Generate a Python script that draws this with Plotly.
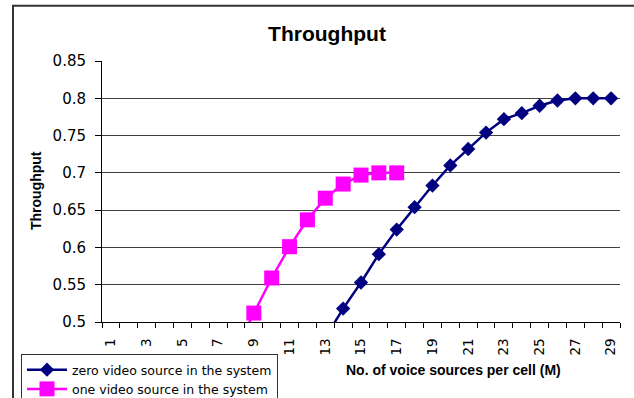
import plotly.graph_objects as go

# ---- data ----
zero_x = [13, 14, 15, 16, 17, 18, 19, 20, 21, 22, 23, 24, 25, 26, 27, 28, 29]
zero_y = [0.479, 0.518, 0.553, 0.591, 0.624, 0.654, 0.683, 0.710, 0.732, 0.754,
          0.772, 0.780, 0.790, 0.797, 0.800, 0.800, 0.800]
one_x = [8, 9, 10, 11, 12, 13, 14, 15, 16, 17]
one_y = [0.464, 0.512, 0.559, 0.601, 0.637, 0.666, 0.685, 0.697, 0.700, 0.700]

categories = list(range(1, 30))
label_cats = [c for c in categories if c % 2 == 1]
tick_labels = [str(c) for c in label_cats]
y_ticks = [0.5, 0.55, 0.6, 0.65, 0.7, 0.75, 0.8, 0.85]

W, H = 634, 398
L, R, T, B = 102, 14, 61, 76
pw, ph = W - L - R, H - T - B


def px_x(x):
    return (x - L) / pw


def px_y(y):
    return (H - B - y) / ph


fig = go.Figure()
fig.add_trace(go.Scatter(
    x=zero_x, y=zero_y, mode="lines+markers",
    name="zero video source in the system",
    line=dict(color="#000080", width=2.5),
    marker=dict(symbol="diamond", size=11, color="#000080"),
))
fig.add_trace(go.Scatter(
    x=one_x, y=one_y, mode="lines+markers",
    name="one video source in the system",
    line=dict(color="#FF00FF", width=2.5),
    marker=dict(symbol="square", size=15, color="#FF00FF"),
))

tick_font = dict(family="DejaVu Sans", size=13.5, color="black")
title_font = dict(family="Liberation Sans", size=14, color="black", weight="bold")

fig.update_layout(
    width=W, height=H,
    margin=dict(l=L, r=R, t=T, b=B, autoexpand=False),
    paper_bgcolor="white", plot_bgcolor="white",
    showlegend=True,
    title=dict(text="Throughput", x=327 / W, xref="container", xanchor="center",
               y=1 - 34 / H, yref="container", yanchor="middle",
               font=dict(family="Liberation Sans", size=21, color="black", weight="bold")),
    xaxis=dict(
        range=[0.5, 29.5], tickmode="array", tickvals=label_cats, ticktext=tick_labels,
        tickangle=-90, ticks="", showgrid=False, zeroline=False,
        showline=True, linecolor="black", linewidth=1, automargin=False,
        tickfont=tick_font, ticklabelstandoff=10,
        minor=dict(tickmode="array", tickvals=[c - 0.5 for c in categories] + [categories[-1] + 0.5],
                   ticks="outside", ticklen=5, tickcolor="black", tickwidth=1, showgrid=False),
    ),
    yaxis=dict(
        range=[0.5, 0.85], tickmode="array", tickvals=y_ticks,
        ticktext=[f"{v:g}" for v in y_ticks],
        ticks="outside", ticklen=6, tickcolor="black",
        showgrid=True, gridcolor="#404040", gridwidth=1, zeroline=False,
        showline=True, linecolor="black", linewidth=1, automargin=False,
        tickfont=dict(family="DejaVu Sans", size=15, color="black"),
        ticklabelstandoff=6,
    ),
    legend=dict(
        x=px_x(21), y=px_y(354), xanchor="left", yanchor="top",
        bgcolor="white", bordercolor="#333333", borderwidth=1,
        font=dict(family="DejaVu Sans", size=12.5, color="black"),
        itemwidth=40, tracegroupgap=0,
    ),
    annotations=[
        dict(text="No. of voice sources per cell (M)", xref="paper", yref="paper",
             x=px_x(453), y=px_y(370), xanchor="center", yanchor="middle",
             showarrow=False, font=title_font),
        dict(text="Throughput", xref="paper", yref="paper",
             x=px_x(36), y=px_y(191), xanchor="center", yanchor="middle",
             textangle=-90, showarrow=False, font=title_font),
    ],
    shapes=[
        dict(type="rect", xref="paper", yref="paper",
             x0=px_x(13), x1=px_x(700), y0=px_y(450), y1=px_y(5.7),
             line=dict(color="#333333", width=2), fillcolor="rgba(0,0,0,0)", layer="below"),
    ],
)

fig.write_html("out.html", config={"displayModeBar": False},
               post_script="document.body.style.margin='0';")
